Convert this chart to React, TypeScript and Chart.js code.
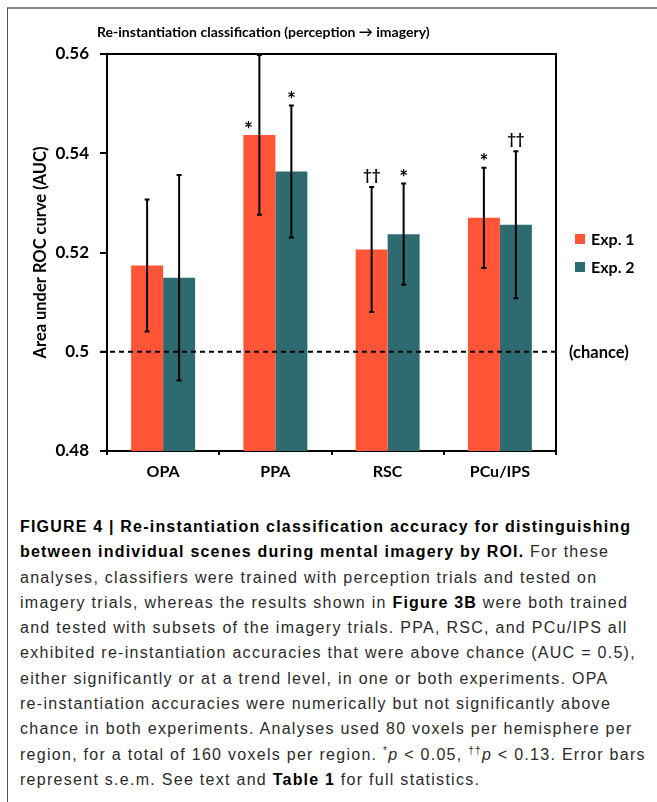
import React, { useEffect, useRef } from 'react';
import { Chart, registerables } from 'chart.js';

Chart.register(...registerables);

// ---- data ----
const categories = ['OPA', 'PPA', 'RSC', 'PCu/IPS'];
const seriesNames = ['Exp. 1', 'Exp. 2'];
const exp1 = [0.5174, 0.5437, 0.5206, 0.527];
const exp2 = [0.5149, 0.5363, 0.5237, 0.5256];
const exp1Err = [0.0133, 0.0161, 0.0126, 0.0101];
const exp2Err = [0.0207, 0.0133, 0.0102, 0.0148];
const exp1Marks = ['', '*', '††', '*'];
const exp2Marks = ['', '*', '*', '††'];
const exp1MarkAtBar = [false, true, false, false];
const exp2MarkAtBar = [false, false, false, false];
const yMin = 0.48;
const yMax = 0.56;
const yStep = 0.02;
const chance = 0.5;
const chartTitle = 'Re-instantiation classification (perception \u2192 imagery)';
const yTitle = 'Area under ROC curve (AUC)';
const chanceLabel = '(chance)';

const ORANGE = '#FF5436';
const TEAL = '#2E6B70';
const FONT = 'Lato, "Open Sans", sans-serif';

function fitFont(ctx: CanvasRenderingContext2D, text: string, width: number, base: number) {
  ctx.font = `bold ${base}px ${FONT}`;
  const w = ctx.measureText(text).width;
  const size = base * (width / w);
  ctx.font = `bold ${size.toFixed(2)}px ${FONT}`;
}

export default function App() {
  const ref = useRef<HTMLCanvasElement>(null);

  useEffect(() => {
    const canvas = ref.current;
    if (!canvas) return;

    const overlay = {
      id: 'overlay',
      afterDatasetsDraw(chart: any) {
        const { ctx, chartArea: a } = chart;
        const y = chart.scales.y;
        ctx.save();
        const cy = y.getPixelForValue(chance);
        ctx.strokeStyle = '#000';
        ctx.lineWidth = 2;
        ctx.setLineDash([5, 4]);
        ctx.beginPath();
        ctx.moveTo(a.left - 6, cy);
        ctx.lineTo(a.right, cy);
        ctx.stroke();
        ctx.setLineDash([]);
        ctx.beginPath();
        ctx.moveTo(a.left, a.top);
        ctx.lineTo(a.right, a.top);
        ctx.lineTo(a.right, a.bottom);
        ctx.stroke();

        const sets = [
          { err: exp1Err, marks: exp1Marks, atBar: exp1MarkAtBar },
          { err: exp2Err, marks: exp2Marks, atBar: exp2MarkAtBar },
        ];
        sets.forEach((s, di) => {
          const meta = chart.getDatasetMeta(di);
          const vals = chart.data.datasets[di].data as number[];
          meta.data.forEach((bar: any, i: number) => {
            const v = vals[i];
            const x = bar.x;
            const yt = Math.max(a.top, y.getPixelForValue(v + s.err[i]));
            const yb = y.getPixelForValue(v - s.err[i]);
            ctx.strokeStyle = '#000';
            ctx.lineWidth = 2;
            ctx.beginPath();
            ctx.moveTo(x, yt);
            ctx.lineTo(x, yb);
            ctx.moveTo(x - 2.5, yt);
            ctx.lineTo(x + 2.5, yt);
            ctx.moveTo(x - 2.5, yb);
            ctx.lineTo(x + 2.5, yb);
            ctx.stroke();
            const m = s.marks[i];
            if (m) {
              const isStar = m.indexOf('*') >= 0;
              ctx.font = `bold ${isStar ? 21 : 15}px ${FONT}`;
              ctx.fillStyle = '#000';
              ctx.textAlign = 'center';
              ctx.textBaseline = 'alphabetic';
              const mt = ctx.measureText(m);
              let mx = x;
              let mcy = yt - 11;
              if (s.atBar[i]) {
                mx = x - 11;
                mcy = bar.y - 10;
              }
              const by = mcy + (mt.actualBoundingBoxAscent - mt.actualBoundingBoxDescent) / 2;
              ctx.fillText(m, mx, by);
            }
          });
        });
        ctx.restore();
      },
      afterDraw(chart: any) {
        const { ctx, chartArea: a } = chart;
        const y = chart.scales.y;
        ctx.save();
        ctx.fillStyle = '#000';
        // title
        fitFont(ctx, chartTitle, 333, 16);
        ctx.textAlign = 'left';
        ctx.textBaseline = 'middle';
        ctx.fillText(chartTitle, a.left - 10, 32);
        // y-axis title
        ctx.save();
        ctx.translate(41, (a.top + a.bottom) / 2);
        ctx.rotate(-Math.PI / 2);
        ctx.textAlign = 'center';
        fitFont(ctx, yTitle, 212, 16);
        ctx.fillText(yTitle, 0, 0);
        ctx.restore();
        // legend
        const colors = [ORANGE, TEAL];
        ctx.font = `bold 16px ${FONT}`;
        ctx.textAlign = 'left';
        seriesNames.forEach((n, i) => {
          const ly = 239 + i * 28;
          ctx.fillStyle = colors[i];
          ctx.fillRect(a.right + 19, ly - 5, 10, 10);
          ctx.fillStyle = '#000';
          ctx.fillText(n, a.right + 35, ly + 1);
        });
        // chance label
        ctx.font = `bold 16.5px ${FONT}`;
        ctx.fillText(chanceLabel, a.right + 13, y.getPixelForValue(chance) + 1);
        ctx.restore();
      },
    };

    const chart = new Chart(canvas, {
      type: 'bar',
      data: {
        labels: categories,
        datasets: [
          { label: seriesNames[0], data: exp1, backgroundColor: ORANGE, categoryPercentage: 0.57, barPercentage: 1 },
          { label: seriesNames[1], data: exp2, backgroundColor: TEAL, categoryPercentage: 0.57, barPercentage: 1 },
        ],
      },
      options: {
        responsive: false,
        animation: false,
        devicePixelRatio: 1,
        layout: { padding: { left: 0, right: 101, top: 54, bottom: 0 } },
        plugins: {
          legend: { display: false },
          tooltip: { enabled: false },
          title: { display: false },
        },
        scales: {
          x: {
            grid: { display: true, drawOnChartArea: false, drawTicks: true, tickLength: 4, color: '#000', lineWidth: 2, offset: true },
            border: { display: true, color: '#000', width: 2 },
            ticks: { color: '#000', font: { family: FONT, weight: 'bold', size: 16 }, padding: 7 },
            afterFit: (s: any) => { s.height = 39; },
          },
          y: {
            min: yMin,
            max: yMax,
            grid: { display: true, drawOnChartArea: false, drawTicks: true, tickLength: 7, color: '#000', lineWidth: 2 },
            border: { display: true, color: '#000', width: 2 },
            ticks: {
              stepSize: yStep,
              color: '#000',
              font: { family: FONT, weight: 'bold', size: 17 },
              padding: 11,
              callback: (v: any) => String(Number(Number(v).toFixed(2))),
            },
            afterFit: (s: any) => { s.width = 107; },
          },
        },
      },
      plugins: [overlay],
    } as any);
    return () => chart.destroy();
  }, []);

  const reg: React.CSSProperties = { letterSpacing: '1.28px' };
  const bold: React.CSSProperties = { fontWeight: 'bold', color: '#000', letterSpacing: '1.2px' };
  const lineStyle: React.CSSProperties = { height: 25.3, lineHeight: '25.3px', whiteSpace: 'nowrap' };

  return (
    <div style={{ position: 'absolute', left: 0, top: 0, width: 657, height: 802, overflow: 'hidden', background: '#fff' }}>
      <div style={{ position: 'absolute', left: 7, top: 7, width: 800, height: 900, borderTop: '2px solid #8a8a8a', borderLeft: '1px solid #555' }} />
      <canvas ref={ref} width={657} height={490} style={{ position: 'absolute', left: 0, top: 0, width: 657, height: 490 }} />
      <div style={{ position: 'absolute', left: 20, top: 514, fontFamily: '"Liberation Sans", Arial, sans-serif', fontSize: 16, color: '#2a2a2a', ...reg }}>
        <div style={lineStyle}><span style={bold}>FIGURE 4 | Re-instantiation classification accuracy for distinguishing</span></div>
        <div style={lineStyle}><span style={bold}>between individual scenes during mental imagery by ROI.</span> For these</div>
        <div style={lineStyle}>analyses, classifiers were trained with perception trials and tested on</div>
        <div style={lineStyle}>imagery trials, whereas the results shown in <span style={bold}>Figure 3B</span> were both trained</div>
        <div style={lineStyle}>and tested with subsets of the imagery trials. PPA, RSC, and PCu/IPS all</div>
        <div style={lineStyle}>exhibited re-instantiation accuracies that were above chance (AUC = 0.5),</div>
        <div style={lineStyle}>either significantly or at a trend level, in one or both experiments. OPA</div>
        <div style={lineStyle}>re-instantiation accuracies were numerically but not significantly above</div>
        <div style={lineStyle}>chance in both experiments. Analyses used 80 voxels per hemisphere per</div>
        <div style={lineStyle}>region, for a total of 160 voxels per region. <sup style={{ fontSize: 10, lineHeight: 0 }}>*</sup><i>p</i> &lt; 0.05, <sup style={{ fontSize: 10, lineHeight: 0 }}>††</sup><i>p</i> &lt; 0.13. Error bars</div>
        <div style={lineStyle}>represent s.e.m. See text and <span style={bold}>Table 1</span> for full statistics.</div>
      </div>
    </div>
  );
}
